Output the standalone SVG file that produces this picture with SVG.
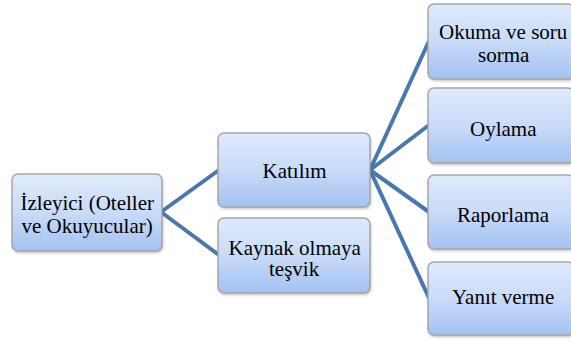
<svg xmlns="http://www.w3.org/2000/svg" width="571" height="341" viewBox="0 0 571 341">
  <defs>
    <linearGradient id="boxFill" x1="0" y1="0" x2="0" y2="1">
      <stop offset="0" stop-color="#dfeafc"/>
      <stop offset="0.5" stop-color="#c9dbf8"/>
      <stop offset="1" stop-color="#a3c1f2"/>
    </linearGradient>
    <filter id="soft" x="-10%" y="-10%" width="120%" height="130%">
      <feGaussianBlur stdDeviation="1.5"/>
    </filter>
  </defs>
  <style>
    .shadow { fill: #000; fill-opacity: 0.25; filter: url(#soft); }
    .box { fill: url(#boxFill); stroke: #a6a6a6; stroke-width: 1.5; }
  </style>
  <rect width="571" height="341" fill="#ffffff"/>

  <g id="connectors" stroke="#4a78ad" stroke-width="4" fill="none" stroke-linecap="round">
    <line x1="161" y1="212" x2="219" y2="170"/>
    <line x1="161" y1="212" x2="219" y2="255"/>
    <line x1="370" y1="170" x2="429" y2="41"/>
    <line x1="370" y1="170" x2="429" y2="125"/>
    <line x1="370" y1="170" x2="429" y2="212"/>
    <line x1="370" y1="170" x2="429" y2="298"/>
  </g>

  <!-- each box: blurred offset shadow, gradient body, serif label placed at its left edge -->
  <g id="node-izleyici">
    <rect class="shadow" x="13" y="176" width="150" height="77" rx="6"/>
    <rect class="box" x="12" y="174" width="150" height="77" rx="6"/>
    <text x="20.5" y="210" font-family="Liberation Serif" font-size="21">İzleyici (Oteller</text>
    <text x="21.5" y="233" font-family="Liberation Serif" font-size="21">ve Okuyucular)</text>
  </g>

  <g id="node-katilim">
    <rect class="shadow" x="219" y="135" width="152" height="74" rx="6"/>
    <rect class="box" x="218" y="133" width="152" height="74" rx="6"/>
    <text x="262.5" y="178" font-family="Liberation Serif" font-size="21">Katılım</text>
  </g>

  <g id="node-kaynak">
    <rect class="shadow" x="219" y="220" width="152" height="75" rx="6"/>
    <rect class="box" x="218" y="218" width="152" height="75" rx="6"/>
    <text x="228.5" y="255" font-family="Liberation Serif" font-size="21">Kaynak olmaya</text>
    <text x="269" y="276" font-family="Liberation Serif" font-size="21">teşvik</text>
  </g>

  <g id="node-okuma">
    <rect class="shadow" x="429" y="6" width="146" height="75" rx="6"/>
    <rect class="box" x="428" y="4" width="146" height="75" rx="6"/>
    <text x="439" y="39" font-family="Liberation Serif" font-size="21">Okuma ve soru</text>
    <text x="478" y="62" font-family="Liberation Serif" font-size="21">sorma</text>
  </g>

  <g id="node-oylama">
    <rect class="shadow" x="429" y="90" width="146" height="75" rx="6"/>
    <rect class="box" x="428" y="88" width="146" height="75" rx="6"/>
    <text x="470" y="136" font-family="Liberation Serif" font-size="21">Oylama</text>
  </g>

  <g id="node-raporlama">
    <rect class="shadow" x="429" y="177" width="146" height="74" rx="6"/>
    <rect class="box" x="428" y="175" width="146" height="74" rx="6"/>
    <text x="457" y="222" font-family="Liberation Serif" font-size="21">Raporlama</text>
  </g>

  <g id="node-yanit">
    <rect class="shadow" x="429" y="264" width="146" height="73" rx="6"/>
    <rect class="box" x="428" y="262" width="146" height="73" rx="6"/>
    <text x="452" y="304" font-family="Liberation Serif" font-size="21">Yanıt verme</text>
  </g>
</svg>
